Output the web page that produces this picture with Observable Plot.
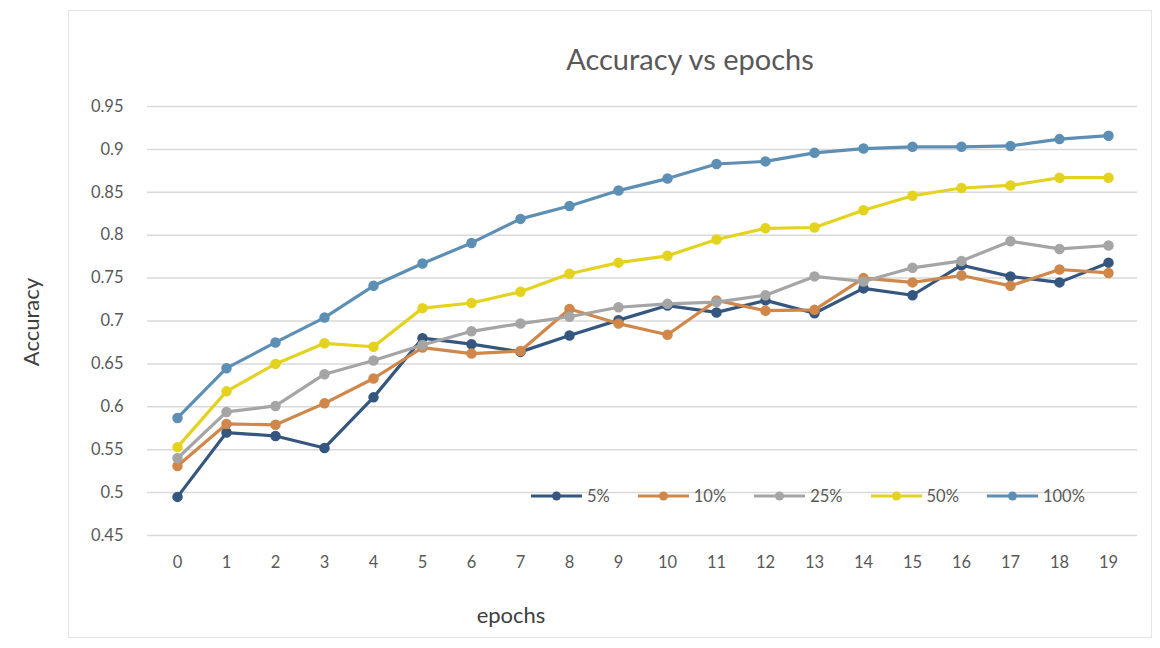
<!DOCTYPE html>
<html>
<head>
<meta charset="utf-8">
<script src="https://cdn.jsdelivr.net/npm/d3@7"></script>
<script src="https://cdn.jsdelivr.net/npm/@observablehq/plot@0.6"></script>
<style>
  body { margin: 0; background: #fff; font-family: Lato, "Open Sans", sans-serif; }
  #wrap { position: relative; width: 1160px; height: 648px; overflow: hidden; }
  #frame { position: absolute; left: 68px; top: 10px; width: 1084px; height: 628px; border: 1px solid #e4e4e4; box-sizing: border-box; }
  #chart { position: absolute; left: 0; top: 0; }
  #title { position: absolute; left: 690px; top: 58px; transform: translate(-50%, -50%); font-size: 29px; color: #595959; white-space: nowrap; }
  #ylab { position: absolute; left: 30px; top: 322px; transform: translate(-50%, -50%) rotate(-90deg); font-size: 22px; color: #404040; white-space: nowrap; }
  #xlab { position: absolute; left: 511px; top: 614px; transform: translate(-50%, -50%); font-size: 22px; color: #404040; white-space: nowrap; }
  #legend { position: absolute; left: 531px; top: 496px; transform: translateY(-50%); display: flex; align-items: center; gap: 28px; font-size: 16.5px; color: #595959; }
  .item { display: flex; align-items: center; gap: 5px; }
</style>
</head>
<body>
<div id="wrap">
  <div id="frame"></div>
  <div id="chart"></div>
  <div id="title">Accuracy vs epochs</div>
  <div id="ylab">Accuracy</div>
  <div id="xlab">epochs</div>
  <div id="legend"></div>
</div>
<script>
// ---- data ----
const epochs = [0, 1, 2, 3, 4, 5, 6, 7, 8, 9, 10, 11, 12, 13, 14, 15, 16, 17, 18, 19];
const seriesNames = ["5%", "10%", "25%", "50%", "100%"];
const seriesColors = ["#34567f", "#d0874a", "#a5a5a5", "#e4d31e", "#5d8fb5"];
const acc5   = [0.495, 0.570, 0.566, 0.552, 0.611, 0.680, 0.673, 0.664, 0.683, 0.701, 0.718, 0.710, 0.724, 0.709, 0.738, 0.730, 0.765, 0.752, 0.745, 0.768];
const acc10  = [0.531, 0.580, 0.579, 0.604, 0.633, 0.669, 0.662, 0.665, 0.714, 0.697, 0.684, 0.724, 0.712, 0.713, 0.750, 0.745, 0.753, 0.741, 0.760, 0.756];
const acc25  = [0.540, 0.594, 0.601, 0.638, 0.654, 0.672, 0.688, 0.697, 0.705, 0.716, 0.720, 0.722, 0.730, 0.752, 0.746, 0.762, 0.770, 0.793, 0.784, 0.788];
const acc50  = [0.553, 0.618, 0.650, 0.674, 0.670, 0.715, 0.721, 0.734, 0.755, 0.768, 0.776, 0.795, 0.808, 0.809, 0.829, 0.846, 0.855, 0.858, 0.867, 0.867];
const acc100 = [0.587, 0.645, 0.675, 0.704, 0.741, 0.767, 0.791, 0.819, 0.834, 0.852, 0.866, 0.883, 0.886, 0.896, 0.901, 0.903, 0.903, 0.904, 0.912, 0.916];
const yTicks = [0.45, 0.5, 0.55, 0.6, 0.65, 0.7, 0.75, 0.8, 0.85, 0.9, 0.95];

const seriesValues = [acc5, acc10, acc25, acc50, acc100];
const rows = seriesNames.map((name, k) => seriesValues[k].map((v, i) => ({ epoch: epochs[i], acc: v, series: name })));

const marks = [
  Plot.gridY(yTicks, { stroke: "#d9d9d9", strokeOpacity: 1, strokeWidth: 1.5 }),
  Plot.axisY(yTicks, { tickSize: 0, tickPadding: 24, tickFormat: d => String(+d.toFixed(2)), fontSize: 16.5, fill: "#595959" }),
  Plot.axisX(epochs, { tickSize: 0, tickPadding: 21, fontSize: 16.5, fill: "#595959" })
];
rows.forEach((r, k) => {
  marks.push(Plot.line(r, { x: "epoch", y: "acc", stroke: seriesColors[k], strokeWidth: 3.2 }));
  marks.push(Plot.dot(r, { x: "epoch", y: "acc", fill: seriesColors[k], stroke: seriesColors[k], r: 4.5, symbol: "circle" }));
});

const chart = Plot.plot({
  width: 1160,
  height: 648,
  marginLeft: 147,
  marginRight: 23,
  marginTop: 106,
  marginBottom: 113,
  style: { fontFamily: "Lato, 'Open Sans', sans-serif", background: "transparent", color: "#595959" },
  x: { type: "point", domain: epochs, padding: 0.5, label: null },
  y: { domain: [0.45, 0.95], label: null },
  marks
});
document.getElementById("chart").appendChild(chart);

// legend
const legend = document.getElementById("legend");
seriesNames.forEach((name, k) => {
  const item = document.createElement("div");
  item.className = "item";
  item.innerHTML = `<svg width="51" height="12"><line x1="0" y1="6" x2="51" y2="6" stroke="${seriesColors[k]}" stroke-width="3.2"/><circle cx="25.5" cy="6" r="4.5" fill="${seriesColors[k]}"/></svg><span>${name}</span>`;
  legend.appendChild(item);
});
</script>
</body>
</html>
